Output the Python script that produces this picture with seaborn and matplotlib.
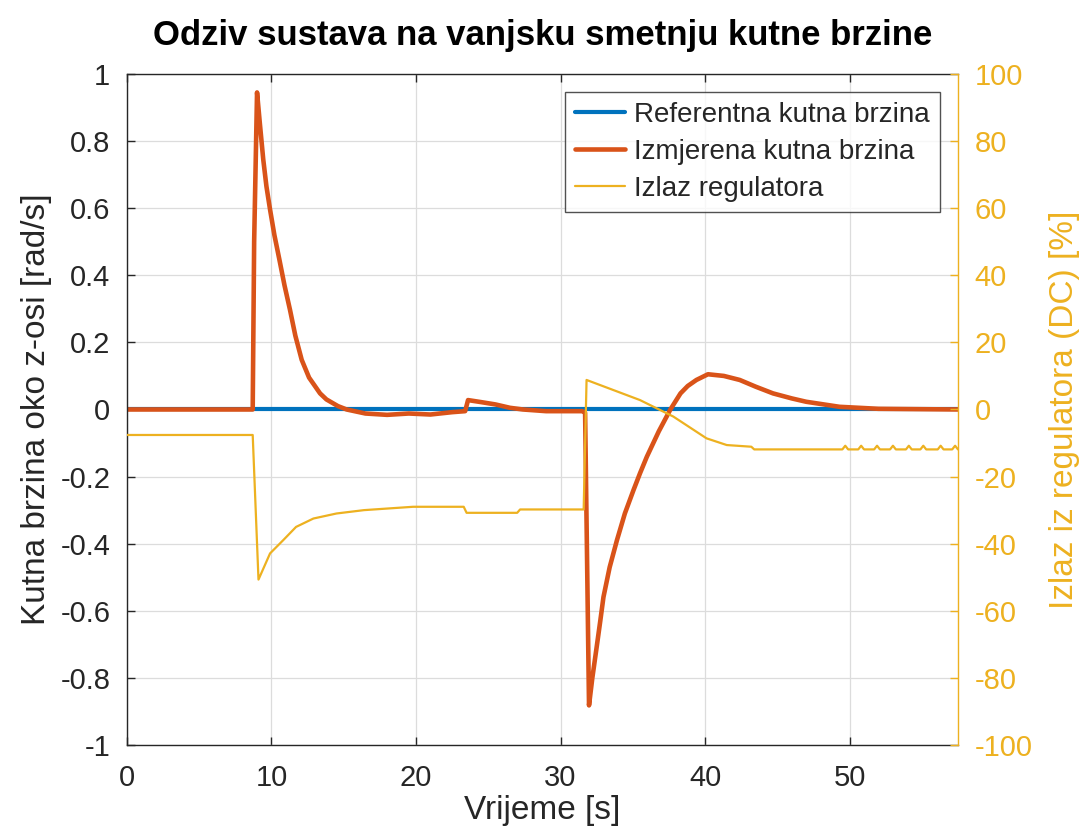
import numpy as np
import pandas as pd
import matplotlib
matplotlib.use("Agg")
import matplotlib.pyplot as plt
import seaborn as sns

# vrijeme [s] i izmjerena kutna brzina [rad/s] (ocitano sa slike)
t_meas = [0, 8.7, 8.8, 9.0, 9.2, 9.43, 9.65, 9.9, 10.2, 10.55, 10.9, 11.28, 11.65,
          12.09, 12.6, 13.36, 13.8, 14.6, 15.2,
          16.5, 18, 19.5, 21, 22.5, 23.4, 23.6, 24.5, 25.5, 26.5, 27.4, 29,
          31.5, 31.7, 31.97, 32.2, 32.5, 32.75, 32.97, 33.4, 33.9, 34.45, 35.05, 35.5,
          35.97, 36.8, 37.6, 38.3, 38.8, 39.4,
          40.2, 41.3, 42.4, 43.5, 44.7, 46, 47, 49.3, 52, 57.5]
w_meas = [0, 0, 0.5, 0.945, 0.85, 0.745, 0.665, 0.596, 0.52, 0.446, 0.37, 0.297, 0.22,
          0.148, 0.095, 0.048, 0.03, 0.01, 0,
          -0.012, -0.016, -0.012, -0.015, -0.008, -0.005, 0.028, 0.022, 0.015, 0.005, 0, -0.005,
          -0.005, -0.01, -0.882, -0.8, -0.708, -0.63, -0.559, -0.47, -0.39, -0.31, -0.24, -0.19,
          -0.141, -0.065, 0, 0.048, 0.07, 0.088,
          0.105, 0.1, 0.088, 0.068, 0.048, 0.033, 0.023, 0.008, 0.002, 0]

# referentna kutna brzina
t_ref = [0, 57.5]
w_ref = [0, 0]

# izlaz regulatora [%]
t_u = [0, 8.7, 9.1, 9.9, 10.8, 11.7, 12.9, 14.5, 16.4, 19.8, 23.3, 23.5,
       27.0, 27.2, 31.6, 31.8, 35.5, 37.8, 40.1, 41.5, 43.2, 43.4,
       49.5, 49.7, 49.9, 50.6, 50.8, 51.0, 51.7, 51.9, 52.1, 52.8, 53.0, 53.2,
       53.9, 54.1, 54.3, 54.9, 55.1, 55.3, 56.1, 56.3, 56.5, 57.1, 57.3, 57.5]
u = [-7.6, -7.6, -50.7, -42.9, -39, -35, -32.5, -31, -30, -29, -29, -30.8,
     -30.8, -29.8, -29.8, 8.8, 2.8, -2.1, -8.6, -10.6, -11.1, -11.9,
     -11.9, -10.8, -11.9, -11.9, -10.8, -11.9, -11.9, -10.8, -11.9, -11.9, -10.8, -11.9,
     -11.9, -10.8, -11.9, -11.9, -10.8, -11.9, -11.9, -10.8, -11.9, -11.9, -10.8, -11.9]

blue = '#0072BD'
orange = '#D95319'
yellow = '#EDB120'
dark = '#262626'

sns.set_theme(style="white")
plt.rcParams['font.family'] = ['Liberation Sans', 'DejaVu Sans']
plt.rcParams['axes.unicode_minus'] = False

fig = plt.figure(figsize=(10.88, 8.35), dpi=100)
ax = fig.add_axes([0.1167, 0.1078, 0.7638, 0.8036])

sns.lineplot(x=t_ref, y=w_ref, ax=ax, color=blue, linewidth=3.0,
             estimator=None, sort=False, label='Referentna kutna brzina', legend=False)
sns.lineplot(x=t_meas, y=w_meas, ax=ax, color=orange, linewidth=3.3,
             estimator=None, sort=False, label='Izmjerena kutna brzina', legend=False)

ax.set_xlim(0, 57.5)
ax.set_ylim(-1, 1)
ax.set_xticks([0, 10, 20, 30, 40, 50])
ax.set_yticks(np.round(np.arange(-1, 1.01, 0.2), 1))
ax.set_yticklabels(['-1', '-0.8', '-0.6', '-0.4', '-0.2', '0', '0.2', '0.4', '0.6', '0.8', '1'])
ax.grid(True, color='#dcdcdc', linewidth=0.9)
ax.set_axisbelow(True)
ax.tick_params(axis='both', direction='in', length=6, width=1, colors=dark,
               labelsize=21, top=True, left=True, bottom=True, right=False)
ax.tick_params(axis='x', pad=14)
ax.tick_params(axis='y', pad=12)
for s in ['left', 'bottom', 'top']:
    ax.spines[s].set_color(dark)
    ax.spines[s].set_linewidth(1)
ax.spines['right'].set_visible(False)
ax.set_xlabel('Vrijeme [s]', fontsize=24, color=dark, labelpad=2)
ax.set_ylabel('Kutna brzina oko z-osi [rad/s]', fontsize=24, color=dark, labelpad=6)
ax.set_title('Odziv sustava na vanjsku smetnju kutne brzine', fontsize=25,
             fontweight='bold', color='black', pad=21)

ax2 = ax.twinx()
sns.lineplot(x=t_u, y=u, ax=ax2, color=yellow, linewidth=1.6,
             estimator=None, sort=False, label='Izlaz regulatora', legend=False)
ax2.set_ylim(-100, 100)
ax2.set_yticks(np.arange(-100, 101, 20))
ax2.grid(False)
ax2.tick_params(axis='y', direction='in', length=6, width=1, colors=yellow,
                labelsize=21, pad=12)
for s in ['left', 'bottom', 'top']:
    ax2.spines[s].set_visible(False)
ax2.spines['right'].set_color(yellow)
ax2.spines['right'].set_linewidth(1)
ax2.set_ylabel('Izlaz iz regulatora (DC) [%]', fontsize=24, color=yellow, labelpad=12)

h1, lab1 = ax.get_legend_handles_labels()
h2, lab2 = ax2.get_legend_handles_labels()
leg = ax2.legend(h1 + h2, lab1 + lab2, loc='upper right', bbox_to_anchor=(0.978, 0.973),
                 borderaxespad=0, fontsize=20, frameon=True, fancybox=False,
                 handlelength=1.8, handletextpad=0.35, labelspacing=0.4, borderpad=0.35)
leg.get_frame().set_edgecolor(dark)
leg.get_frame().set_linewidth(1)
for txt in leg.get_texts():
    txt.set_color(dark)

fig.savefig('out.png', dpi=100)
